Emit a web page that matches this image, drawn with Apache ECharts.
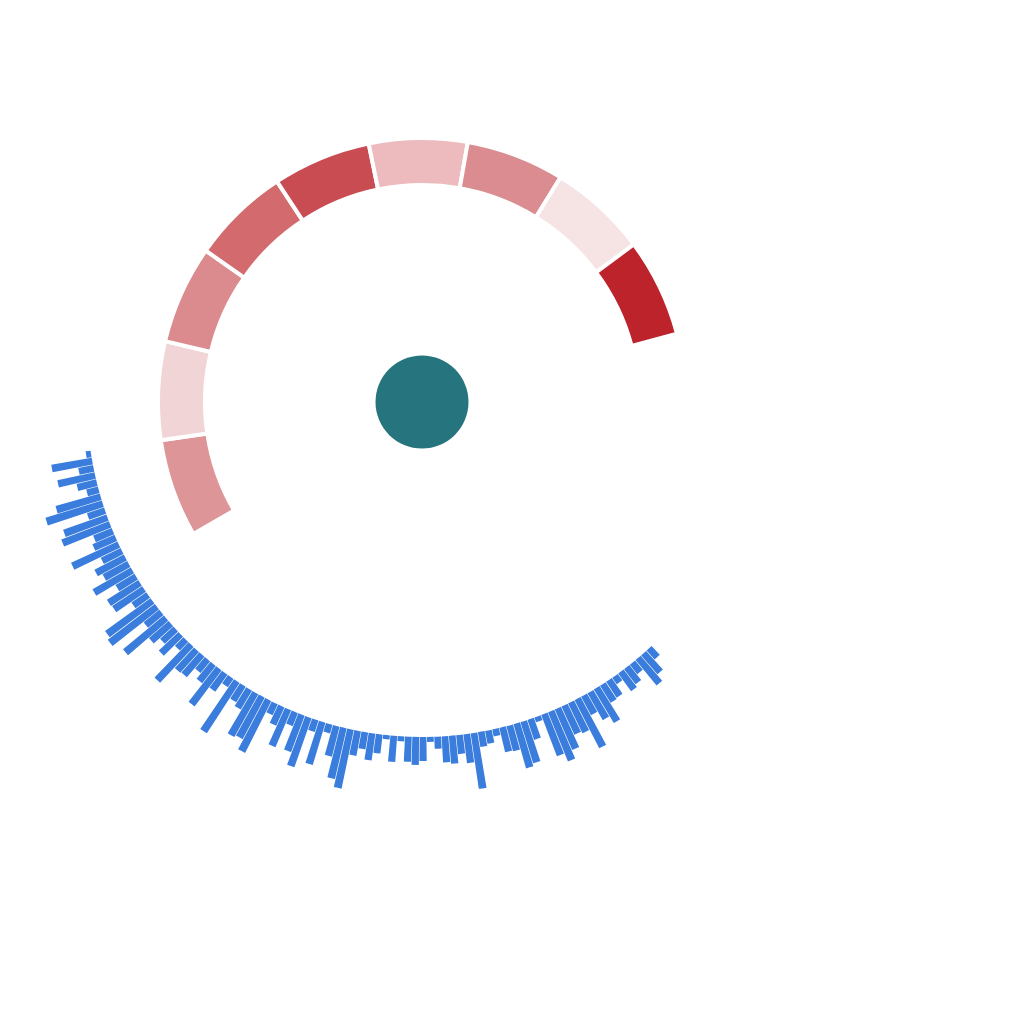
<!DOCTYPE html>
<html>
<head>
<meta charset="utf-8">
<script src="https://cdn.jsdelivr.net/npm/echarts@6/dist/echarts.min.js"></script>
<style>
html,body{margin:0;padding:0;background:#fff;}
#chart{width:1024px;height:1024px;}
</style>
</head>
<body>
<div id="chart"></div>
<script>
// Blue radial bars, in order counter-clockwise from the left (about 188°) to the lower right (about 313°)
const barValues = [
  5, 41, 15, 38, 20, 12, 46, 59, 18, 46,
  51, 20, 24, 51, 22, 33, 28, 44, 22, 37,
  36, 18, 56, 59, 20, 53, 26, 18, 27, 12,
  49, 28, 27, 15, 22, 45, 21, 10, 60, 18,
  22, 49, 47, 58, 12, 20, 40, 14, 39, 52,
  12, 44, 9, 31, 52, 60, 25, 17, 27, 19,
  4, 26, 5, 25, 28, 24, 5, 12, 26, 28,
  19, 29, 56, 15, 13, 7, 25, 26, 46, 43,
  21, 5, 44, 53, 44, 31, 33, 54, 21, 31,
  39, 20, 19, 8, 22, 19, 12, 33, 25, 12
];
// Outer ring segments (equal sizes), clockwise from lower-left to right
const ringNames = ['A','B','C','D','E','F','G','H','I'];
const ringValues = [1, 1, 1, 1, 1, 1, 1, 1, 1];
const ringColors = ['#DE9598','#F1D4D6','#DB8A8E','#D26A6E','#C84C51','#EDBBBD','#DB8C90','#F6E3E4','#BC232B'];
// Centre disc
const centerValue = [1];

const TOTAL_SLOTS = 288; // 1.25° per slot over the full circle
const angleCats = [];
const barData = [];
for (let i = 0; i < TOTAL_SLOTS; i++) {
  angleCats.push('c' + i);
  barData.push(i < barValues.length ? barValues[i] : '-');
}

const chart = echarts.init(document.getElementById('chart'), null, {renderer: 'canvas'});
chart.setOption({
  animation: false,
  backgroundColor: '#fff',
  polar: {
    center: [422, 402],
    radius: [335, 395]
  },
  angleAxis: {
    type: 'category',
    data: angleCats,
    startAngle: 188.3,
    clockwise: false,
    axisLine: {show: false},
    axisTick: {show: false},
    axisLabel: {show: false},
    splitLine: {show: false}
  },
  radiusAxis: {
    type: 'value',
    min: 0,
    max: 60,
    axisLine: {show: false},
    axisTick: {show: false},
    axisLabel: {show: false},
    splitLine: {show: false}
  },
  series: [
    {
      type: 'bar',
      coordinateSystem: 'polar',
      data: barData,
      barCategoryGap: '8%',
      itemStyle: {color: '#3B7DDD'},
      silent: true
    },
    {
      type: 'pie',
      center: [422, 402],
      radius: [217, 264],
      startAngle: 210,
      endAngle: 15,
      clockwise: true,
      silent: true,
      label: {show: false},
      labelLine: {show: false},
      itemStyle: {borderColor: '#fff', borderWidth: 4},
      data: ringValues.map((v, i) => ({name: ringNames[i], value: v, itemStyle: {color: ringColors[i]}}))
    },
    {
      type: 'pie',
      center: [422, 402],
      radius: [0, 46.5],
      silent: true,
      label: {show: false},
      labelLine: {show: false},
      data: centerValue.map(v => ({value: v, itemStyle: {color: '#26757E'}}))
    }
  ]
});
</script>
</body>
</html>
